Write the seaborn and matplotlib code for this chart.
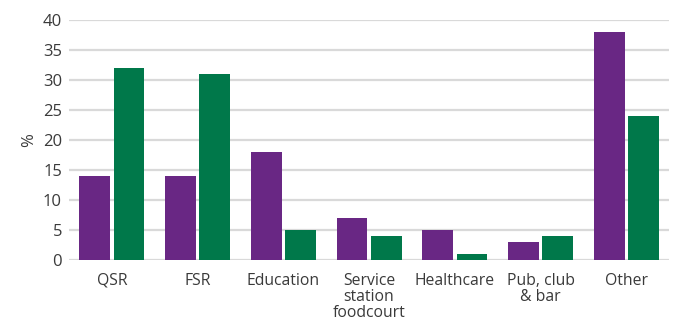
import matplotlib
matplotlib.use("Agg")
import matplotlib.pyplot as plt
import seaborn as sns
import pandas as pd

categories = ["QSR", "FSR", "Education", "Service\nstation\nfoodcourt",
              "Healthcare", "Pub, club\n& bar", "Other"]
series_a = [14, 14, 18, 7, 5, 3, 38]
series_b = [32, 31, 5, 4, 1, 4, 24]
series_names = ["A", "B"]
palette = ["#692784", "#00784a"]
y_ticks = [0, 5, 10, 15, 20, 25, 30, 35, 40]

df = pd.DataFrame({
    "category": categories * 2,
    "series": [series_names[0]] * len(categories) + [series_names[1]] * len(categories),
    "value": series_a + series_b,
})

sns.set_theme(style="white")
plt.rcParams["font.family"] = ["Open Sans", "DejaVu Sans"]

fig = plt.figure(figsize=(6.76, 3.22), dpi=100)
ax = fig.add_axes([0.102, 0.1925, 0.888, 0.7455])

sns.barplot(data=df, x="category", y="value", hue="series", palette=palette,
            order=categories, hue_order=series_names, width=0.8, gap=0.1,
            saturation=1, legend=False, ax=ax, zorder=3, linewidth=0)

ax.set_ylim(0, 40)
ax.set_yticks(y_ticks)
ax.set_xlim(-0.5, len(categories) - 0.5)
ax.yaxis.grid(True, color="#d9d9d9", linewidth=1.6, zorder=0)
ax.set_axisbelow(True)
for s in ax.spines.values():
    s.set_visible(False)

text_color = "#3a3a3a"
ax.tick_params(axis="y", length=0, labelsize=12, labelcolor=text_color, pad=5)
ax.tick_params(axis="x", length=0, labelsize=11.3, labelcolor=text_color, pad=9)
for lbl in ax.get_xticklabels():
    lbl.set_linespacing(1.0)
ax.set_xlabel("")
ax.set_ylabel("%", fontsize=12, color=text_color, labelpad=4)

fig.savefig("out.png", dpi=100)
